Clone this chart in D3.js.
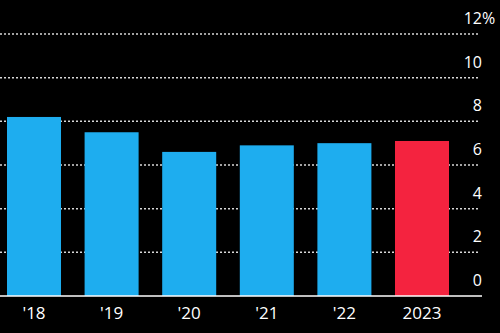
<!DOCTYPE html>
<html>
<head>
<meta charset="utf-8">
<script src="https://cdn.jsdelivr.net/npm/d3@7"></script>
<style>
  html, body { margin: 0; padding: 0; background: #000; }
  svg { display: block; }
  text { font-family: "Open Sans", "Liberation Sans", sans-serif; fill: #fff; }
</style>
</head>
<body>
<svg id="chart" width="500" height="333"></svg>
<script>
// Annual rate, percent
const years = ["'18", "'19", "'20", "'21", "'22", "2023"];
const values = [8.2, 7.5, 6.6, 6.9, 7.0, 7.1];
const highlight = [false, false, false, false, false, true];
const yTicks = [0, 2, 4, 6, 8, 10, 12];
const yTickLabels = ["0", "2", "4", "6", "8", "10", "12%"];

const svg = d3.select("#chart");
const W = 500, H = 333;

const x = d3.scaleBand()
  .domain(years)
  .range([7, 449])
  .paddingInner(0.304)
  .paddingOuter(0);

const y = d3.scaleLinear()
  .domain([0, 12])
  .range([296, 34]);

// Dotted gridlines
const grid = svg.append("g");
grid.selectAll("line")
  .data(yTicks.filter(d => d > 0))
  .join("line")
  .attr("x1", 0)
  .attr("x2", 480)
  .attr("y1", d => y(d))
  .attr("y2", d => y(d))
  .attr("stroke", "#d8d8d8")
  .attr("stroke-width", 1.5)
  .attr("stroke-dasharray", "2,2");

// Bars
svg.append("g")
  .selectAll("rect")
  .data(values)
  .join("rect")
  .attr("x", (d, i) => x(years[i]))
  .attr("width", x.bandwidth())
  .attr("y", d => y(d))
  .attr("height", d => y(0) - y(d))
  .attr("fill", (d, i) => highlight[i] ? "#f4233f" : "#1eadef");

// Baseline
svg.append("line")
  .attr("x1", 0)
  .attr("x2", 482)
  .attr("y1", y(0))
  .attr("y2", y(0))
  .attr("stroke", "#fff")
  .attr("stroke-width", 1.5);

// Y labels sit above their gridlines, numbers right-aligned
svg.append("g")
  .selectAll("text")
  .data(yTicks)
  .join("text")
  .attr("x", 482)
  .attr("y", d => y(d) - 10)
  .attr("font-size", 16)
  .text((d, i) => yTickLabels[i].replace("%", ""))
  .attr("text-anchor", "end")
  .each(function(d, i) {
    if (yTickLabels[i].endsWith("%")) {
      d3.select(this.parentNode).append("text")
        .attr("x", 482)
        .attr("y", y(d) - 10)
        .attr("font-size", 16)
        .attr("text-anchor", "start")
        .text("%");
    }
  });

// X axis labels
const xAxis = d3.axisBottom(x).tickSize(0).tickPadding(0);
const gx = svg.append("g")
  .attr("transform", `translate(0,${y(0)})`)
  .call(xAxis);
gx.select(".domain").remove();
gx.selectAll("text")
  .attr("dy", null)
  .attr("y", 23)
  .attr("font-size", 17)
  .attr("font-family", "'Open Sans', 'Liberation Sans', sans-serif")
  .attr("fill", "#fff");
</script>
</body>
</html>
